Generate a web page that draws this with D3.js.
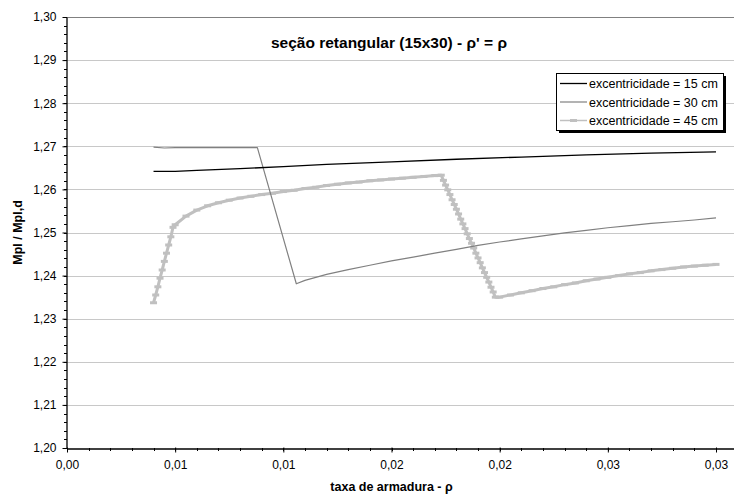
<!DOCTYPE html>
<html>
<head>
<meta charset="utf-8">
<script src="https://cdn.jsdelivr.net/npm/d3@7"></script>
<style>
  body { margin: 0; background: #fff; }
  svg { display: block; font-family: 'Liberation Sans', Arial, sans-serif; }
</style>
</head>
<body>
<svg id="chart" width="734" height="495"></svg>
<script>
const width = 734
const height = 495
const plot = { 'left': 67, 'top': 17, 'bottom': 448, 'x03': 716 }

const chartTitle = "seção retangular (15x30) - ρ' = ρ"
const xTitle = 'taxa de armadura - ρ'
const yTitle = 'Mpl / Mpl,d'
const seriesNames = ['excentricidade = 15 cm', 'excentricidade = 30 cm', 'excentricidade = 45 cm']

const xTicks = [0, 0.005, 0.01, 0.015, 0.02, 0.025, 0.03]
const xTickLabels = ['0,00', '0,01', '0,01', '0,02', '0,02', '0,03', '0,03']
const yTicks = [1.20, 1.21, 1.22, 1.23, 1.24, 1.25, 1.26, 1.27, 1.28, 1.29, 1.30]
const yTickLabels = ['1,20', '1,21', '1,22', '1,23', '1,24', '1,25', '1,26', '1,27', '1,28', '1,29', '1,30']

// e = 15 cm
const rho15 = [0.004, 0.005, 0.006, 0.008, 0.010, 0.012, 0.015, 0.018, 0.021, 0.024, 0.027, 0.030]
const m15 = [1.2642, 1.2642, 1.2644, 1.2648, 1.2653, 1.2658, 1.2664, 1.2670, 1.2675, 1.2680, 1.2684, 1.2687]

// e = 30 cm
const rho30 = [0.004, 0.0045, 0.005, 0.006, 0.007, 0.008, 0.0088, 0.0106, 0.011, 0.012, 0.013, 0.014, 0.015,
  0.016, 0.017, 0.018, 0.019, 0.020, 0.021, 0.022, 0.023, 0.024, 0.025, 0.026, 0.027, 0.028, 0.029, 0.030]
const m30 = [1.2698, 1.2696, 1.2697, 1.2697, 1.2697, 1.2697, 1.2697, 1.2381, 1.2389, 1.2403, 1.2414, 1.2424, 1.2434,
  1.2443, 1.2452, 1.2461, 1.2470, 1.2478, 1.2485, 1.2492, 1.2499, 1.2505, 1.2511, 1.2516, 1.2521, 1.2525, 1.2529, 1.2534]

// e = 45 cm
const rho45 = [0.0040, 0.0041, 0.0042, 0.0043, 0.0044, 0.0045, 0.0046, 0.0047, 0.0048, 0.0049,
  0.0050, 0.0055, 0.0060, 0.0065, 0.0070, 0.0075, 0.0080, 0.0085, 0.0090, 0.0095, 0.0100,
  0.0105, 0.0110, 0.0115, 0.0120, 0.0125, 0.0130, 0.0135, 0.0140, 0.0145, 0.0150, 0.0155,
  0.0160, 0.0165, 0.0170,
  0.0173, 0.0174, 0.0175, 0.0176, 0.0177, 0.0178, 0.0179, 0.0180, 0.0181, 0.0182, 0.0183,
  0.0184, 0.0185, 0.0186, 0.0187, 0.0188, 0.0189, 0.0190, 0.0191, 0.0192, 0.0193, 0.0194,
  0.0195, 0.0196, 0.0197, 0.0198,
  0.0200, 0.0205, 0.0210, 0.0215, 0.0220, 0.0225, 0.0230, 0.0235, 0.0240, 0.0245, 0.0250,
  0.0255, 0.0260, 0.0265, 0.0270, 0.0275, 0.0280, 0.0285, 0.0290, 0.0295, 0.0300]
const m45 = [1.2337, 1.2355, 1.2374, 1.2394, 1.2413, 1.2433, 1.2452, 1.2471, 1.2490, 1.2512,
  1.2518, 1.2538, 1.2552, 1.2562, 1.2569, 1.2575, 1.2580, 1.2584, 1.2588, 1.2591, 1.2595,
  1.2598, 1.2602, 1.2605, 1.2609, 1.2612, 1.2615, 1.2617, 1.2620, 1.2622, 1.2624, 1.2626,
  1.2628, 1.2630, 1.2632,
  1.2633, 1.2621, 1.2610, 1.2599, 1.2588, 1.2576, 1.2565, 1.2554, 1.2543, 1.2531, 1.2520,
  1.2509, 1.2497, 1.2486, 1.2475, 1.2464, 1.2452, 1.2441, 1.2430, 1.2418, 1.2407, 1.2396,
  1.2385, 1.2373, 1.2362, 1.2350,
  1.2350, 1.2355, 1.2360, 1.2365, 1.2370, 1.2374, 1.2379, 1.2383, 1.2388, 1.2392, 1.2396,
  1.2400, 1.2404, 1.2407, 1.2411, 1.2414, 1.2417, 1.2420, 1.2422, 1.2424, 1.2426]

const seriesColor = ['#000000', '#808080', '#c0c0c0']
const seriesWidth = [1.3, 1.2, 3]
const tickFont = '12px'
const legendFont = '12.5px'

let svg = d3.select('#chart')

// the axis runs past the right edge of the picture (cropped), so extend the domain
let pxPerUnit = (plot.x03 - plot.left) / 0.03
let xScale = d3.scaleLinear()
  .domain([0, 0.035])
  .range([plot.left, plot.left + pxPerUnit * 0.035])
let yScale = d3.scaleLinear()
  .domain([1.20, 1.30])
  .range([plot.bottom, plot.top])

// grid lines
svg.append('g')
  .selectAll('line')
  .data(yTicks.slice(1, -1))
  .enter()
  .append('line')
  .attr('x1', plot.left)
  .attr('x2', width)
  .attr('y1', d => Math.round(yScale(d)) + 0.5)
  .attr('y2', d => Math.round(yScale(d)) + 0.5)
  .style('stroke', '#c8c8c8')
  .style('stroke-width', 1)

// plot area top border
svg.append('line')
  .attr('x1', plot.left)
  .attr('x2', width)
  .attr('y1', Math.round(yScale(1.30)) + 0.5)
  .attr('y2', Math.round(yScale(1.30)) + 0.5)
  .style('stroke', '#808080')
  .style('stroke-width', 1)

// minor ticks
let xMinor = d3.range(0, 0.0325, 0.001)
let yMinor = d3.range(1.20, 1.3001, 0.002)
svg.append('g')
  .selectAll('line')
  .data(xMinor)
  .enter()
  .append('line')
  .attr('x1', d => Math.round(xScale(d)) + 0.5)
  .attr('x2', d => Math.round(xScale(d)) + 0.5)
  .attr('y1', plot.bottom)
  .attr('y2', plot.bottom + 3)
  .style('stroke', '#000')
svg.append('g')
  .selectAll('line')
  .data(yMinor)
  .enter()
  .append('line')
  .attr('x1', plot.left - 3)
  .attr('x2', plot.left)
  .attr('y1', d => Math.round(yScale(d)) + 0.5)
  .attr('y2', d => Math.round(yScale(d)) + 0.5)
  .style('stroke', '#000')

// axes
let xAxis = svg.append('g')
  .attr('transform', `translate(0, ${plot.bottom + 0.5})`)
  .call(d3.axisBottom(xScale)
    .tickValues(xTicks)
    .tickFormat((d, i) => xTickLabels[i])
    .tickSizeInner(4)
    .tickSizeOuter(0)
    .tickPadding(8))
xAxis.selectAll('line').attr('y1', -1)
let yAxis = svg.append('g')
  .attr('transform', `translate(${plot.left - 0.5}, 0)`)
  .call(d3.axisLeft(yScale)
    .tickValues(yTicks)
    .tickFormat((d, i) => yTickLabels[i])
    .tickSizeInner(4)
    .tickSizeOuter(0)
    .tickPadding(6))
svg.selectAll('.domain').style('stroke', '#000').style('stroke-width', 1.3)
svg.selectAll('.tick text')
  .style('font-family', "'Liberation Sans', Arial, sans-serif")
  .style('font-size', tickFont)
  .style('fill', '#000')

// series lines
let line = d3.line()
  .x(d => xScale(d[0]))
  .y(d => yScale(d[1]))
let seriesData = [
  d3.zip(rho15, m15),
  d3.zip(rho30, m30),
  d3.zip(rho45, m45)
]
// draw e = 45 first so the darker lines sit on top like in excel
;[2, 1, 0].forEach(i => {
  svg.append('path')
    .datum(seriesData[i])
    .style('fill', 'none')
    .style('stroke', seriesColor[i])
    .style('stroke-width', seriesWidth[i])
    .style('stroke-linejoin', 'round')
    .attr('d', line)
  if (i === 2) {
    svg.append('g')
      .selectAll('rect')
      .data(seriesData[i])
      .enter()
      .append('rect')
      .attr('x', d => xScale(d[0]) - 3.5)
      .attr('y', d => yScale(d[1]) - 1.5)
      .attr('width', 7)
      .attr('height', 3)
      .style('fill', seriesColor[i])
  }
})

// titles
svg.append('text')
  .attr('x', 389)
  .attr('y', 48)
  .attr('text-anchor', 'middle')
  .style('font-size', '15.5px')
  .style('font-weight', 'bold')
  .text(chartTitle)
svg.append('text')
  .attr('x', (plot.left + plot.x03) / 2)
  .attr('y', 491)
  .attr('text-anchor', 'middle')
  .style('font-size', '12.5px')
  .style('font-weight', 'bold')
  .text(xTitle)
svg.append('text')
  .attr('transform', `translate(22, ${(plot.top + plot.bottom) / 2}) rotate(-90)`)
  .attr('text-anchor', 'middle')
  .style('font-size', '12.5px')
  .style('font-weight', 'bold')
  .text(yTitle)

// legend
let legend = svg.append('g').attr('transform', 'translate(556, 73)')
legend.append('rect')
  .attr('x', 3).attr('y', 3)
  .attr('width', 167).attr('height', 57)
  .style('fill', '#000')
legend.append('rect')
  .attr('x', 0.5).attr('y', 0.5)
  .attr('width', 167).attr('height', 57)
  .style('fill', '#fff')
  .style('stroke', '#000')
  .style('stroke-width', 1)
seriesNames.forEach((name, i) => {
  let ly = 10.5 + i * 18.5
  legend.append('line')
    .attr('x1', 4).attr('x2', 31)
    .attr('y1', ly).attr('y2', ly)
    .style('stroke', seriesColor[i])
    .style('stroke-width', i === 2 ? 1.5 : seriesWidth[i])
  if (i === 2) {
    legend.append('rect')
      .attr('x', 14).attr('y', ly - 1.5)
      .attr('width', 7).attr('height', 3)
      .style('fill', seriesColor[i])
  }
  legend.append('text')
    .attr('x', 33)
    .attr('y', ly + 4.5)
    .style('font-size', legendFont)
    .text(name)
})
</script>
</body>
</html>
